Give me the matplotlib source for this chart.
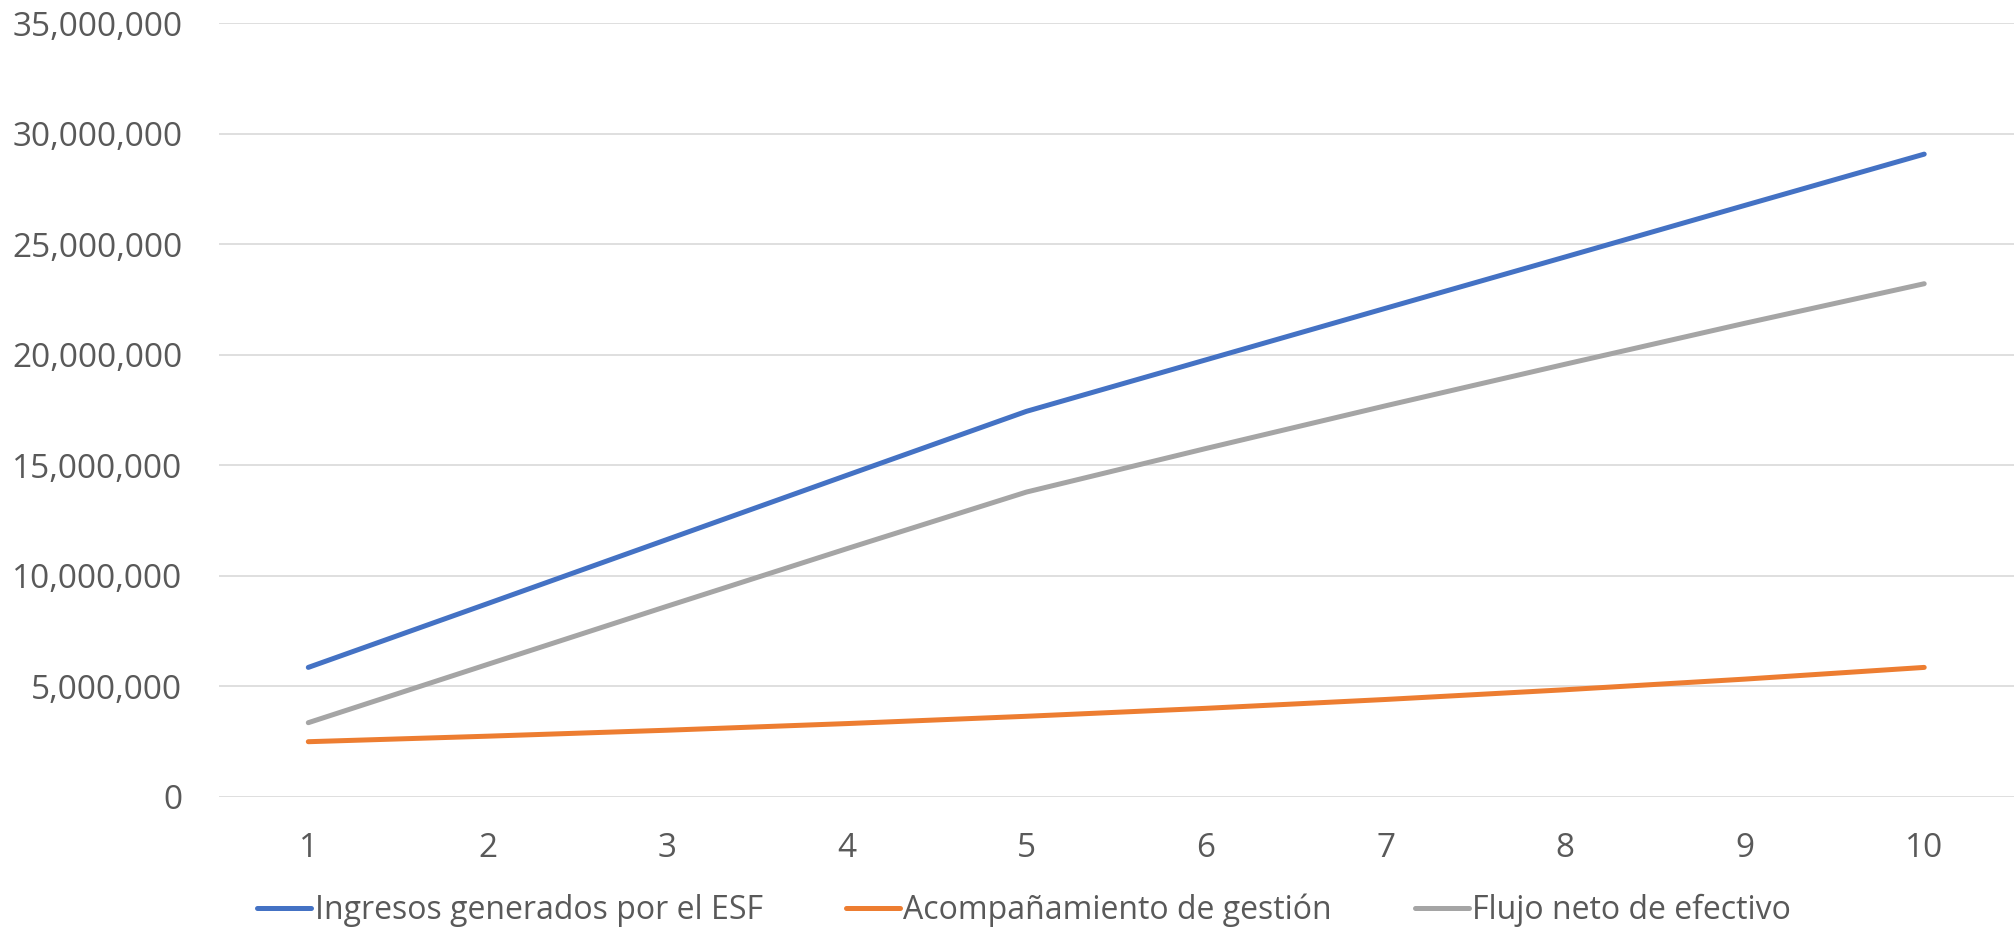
import matplotlib.pyplot as plt
from matplotlib.ticker import FuncFormatter

years = [1, 2, 3, 4, 5, 6, 7, 8, 9, 10]
ingresos = [5.86e6, 8.75e6, 11.65e6, 14.55e6, 17.44e6, 19.77e6, 22.10e6, 24.42e6, 26.75e6, 29.07e6]
acompanamiento = [2.50e6, 2.75e6, 3.02e6, 3.32e6, 3.65e6, 4.01e6, 4.41e6, 4.85e6, 5.33e6, 5.86e6]
flujo = [3.36e6, 6.00e6, 8.63e6, 11.23e6, 13.79e6, 15.76e6, 17.69e6, 19.57e6, 21.42e6, 23.21e6]

labels = ["Ingresos generados por el ESF", "Acompañamiento de gestión", "Flujo neto de efectivo"]
colors = ["#4472C4", "#ED7D31", "#A5A5A5"]

plt.rcParams['font.family'] = ['Open Sans', 'DejaVu Sans']
txt = "#595959"

fig = plt.figure(figsize=(20.16, 9.35), dpi=100)
ax = fig.add_axes([0.1084, 0.1476, 0.8906, 0.8278])

for vals, lab, c in zip([ingresos, acompanamiento, flujo], labels, colors):
    ax.plot(years, vals, color=c, lw=3.6, label=lab, solid_capstyle='round')

ax.set_xlim(0.5, 10.5)
ax.set_ylim(0, 35e6)
ax.set_yticks([i * 5e6 for i in range(8)])
ax.set_xticks(years)
ax.yaxis.set_major_formatter(FuncFormatter(lambda v, p: f"{int(v):,}"))
ax.grid(axis='y', color="#D9D9D9", lw=1.2)
ax.set_axisbelow(True)
for s in ax.spines.values():
    s.set_visible(False)
ax.tick_params(axis='both', length=0, labelsize=24, labelcolor=txt)
ax.tick_params(axis='y', pad=26)
ax.tick_params(axis='x', pad=25)

fig.legend(loc='lower center', ncol=3, frameon=False, fontsize=23,
           labelcolor=txt, handlelength=1.7, handletextpad=0.1,
           columnspacing=2.6, bbox_to_anchor=(0.508, -0.022))

fig.savefig("out.png", dpi=100)
